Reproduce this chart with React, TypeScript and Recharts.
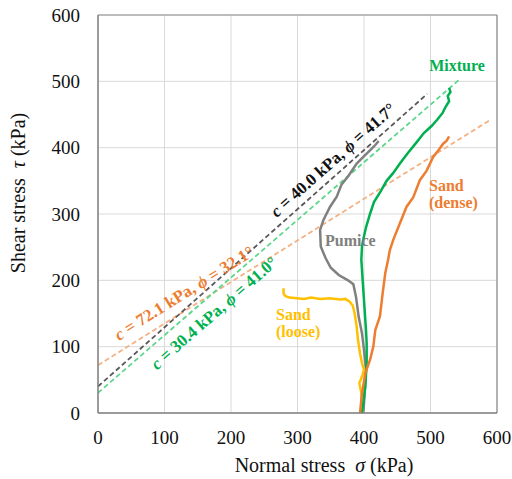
import React from 'react';
import { LineChart, Line, CartesianGrid, XAxis, YAxis, ReferenceLine } from 'recharts';

// axis ticks (kPa)
const xTicks = [0, 100, 200, 300, 400, 500, 600];
const yTicks = [0, 100, 200, 300, 400, 500, 600];

// stress paths, [sigma, tau] in kPa
const pumice: [number, number][] = [
  [399, 0], [401, 30], [403, 65], [400, 95], [397, 120], [392, 145], [388, 175], [384, 194],
  [376, 200], [362, 208], [350, 219], [342, 234], [335, 251], [334, 276], [339, 291],
  [349, 311], [359, 326], [366, 344], [377, 358], [389, 376], [399, 386], [409, 396],
  [417, 404], [422, 410],
];
const sandLoose: [number, number][] = [
  [398, 0], [396, 30], [393, 45], [397, 55], [400, 65], [397, 75], [394, 90], [391, 110],
  [389, 130], [386, 150], [383, 162], [378, 168], [372, 172], [365, 171], [357, 172],
  [349, 173], [334, 172], [320, 174], [310, 172], [299, 173], [288, 174], [282, 176],
  [279, 180], [279, 188],
];
const mixture: [number, number][] = [
  [397, 0], [402, 40], [404, 75], [404, 105], [403, 125], [401, 155], [398, 200], [396, 231],
  [397, 251], [399, 262], [403, 280], [409, 300], [415, 318], [425, 334], [434, 350],
  [444, 362], [454, 376], [466, 392], [479, 408], [490, 422], [502, 433], [510, 442],
  [518, 452], [523, 462], [528, 470], [526, 478], [530, 484], [528, 490],
];
const sandDense: [number, number][] = [
  [394, 0], [397, 30], [402, 60], [409, 80], [414, 100], [417, 125], [424, 146], [428, 180],
  [432, 211], [436, 230], [439, 246], [444, 261], [454, 286], [464, 311], [474, 325],
  [484, 351], [494, 365], [504, 386], [512, 396], [519, 406], [524, 410], [528, 417],
];

// Mohr-Coulomb envelopes (end points)
const envMixture: [number, number][] = [[0, 30.4], [545, 504]];
const envPumice: [number, number][] = [[0, 40.0], [495, 481]];
const envSand: [number, number][] = [[0, 72.1], [590, 442]];

const pts = (a: [number, number][]) => a.map(([x, y]) => ({ x, y }));

const serif = "'Liberation Serif', 'Times New Roman', Times, 'DejaVu Serif', serif";

export default function App() {
  return (
    <div style={{ position: 'absolute', left: 0, top: 0, width: 512, height: 479, background: '#fff', fontFamily: serif }}>
      <LineChart width={512} height={479} margin={{ top: 15, right: 15, bottom: 36, left: 38 }} style={{ fontFamily: serif }}>
        <CartesianGrid stroke="#d9d9d9" strokeWidth={1} />
        <XAxis
          type="number"
          dataKey="x"
          domain={[0, 600]}
          ticks={xTicks}
          height={30}
          tickLine={false}
          tickMargin={12}
          stroke="#808080"
          strokeWidth={1.5}
          tick={{ fill: '#111', fontSize: 19, style: { fontFamily: serif } }}
        />
        <YAxis
          type="number"
          domain={[0, 600]}
          ticks={yTicks}
          width={60}
          tickLine={false}
          tickMargin={12}
          stroke="#808080"
          strokeWidth={1.5}
          tick={{ fill: '#111', fontSize: 19, style: { fontFamily: serif } }}
        />
        <ReferenceLine y={600} stroke="#8c8c8c" strokeWidth={1.2} />
        <ReferenceLine x={600} stroke="#8c8c8c" strokeWidth={1.2} />

        <Line data={pts(envSand)} dataKey="y" type="linear" stroke="#f4b183" strokeWidth={1.8} strokeDasharray="5 3" dot={false} isAnimationActive={false} />
        <Line data={pts(envPumice)} dataKey="y" type="linear" stroke="#595959" strokeWidth={1.8} strokeDasharray="5 3" dot={false} isAnimationActive={false} />
        <Line data={pts(envMixture)} dataKey="y" type="linear" stroke="#5cd68a" strokeWidth={1.8} strokeDasharray="5 3" dot={false} isAnimationActive={false} />

        <Line data={pts(pumice)} dataKey="y" type="linear" stroke="#808080" strokeWidth={2.5} dot={false} isAnimationActive={false} />
        <Line data={pts(sandLoose)} dataKey="y" type="linear" stroke="#ffc000" strokeWidth={2.5} dot={false} isAnimationActive={false} />
        <Line data={pts(mixture)} dataKey="y" type="linear" stroke="#00b050" strokeWidth={2.5} dot={false} isAnimationActive={false} />
        <Line data={pts(sandDense)} dataKey="y" type="linear" stroke="#ed7d31" strokeWidth={2.5} dot={false} isAnimationActive={false} />
      </LineChart>

      {/* titles and annotations */}
      <svg width={512} height={479} style={{ position: 'absolute', left: 0, top: 0, pointerEvents: 'none', fontFamily: serif }}>
        <text x={324} y={472} textAnchor="middle" fontSize={20} fill="#111" xmlSpace="preserve">
          Normal stress  <tspan fontStyle="italic">σ</tspan> (kPa)
        </text>
        <text x={25} y={193} textAnchor="middle" fontSize={20} fill="#111" transform="rotate(-90 25 193)" xmlSpace="preserve">
          Shear stress  <tspan fontStyle="italic">τ</tspan> (kPa)
        </text>

        <g fontWeight="bold" fontSize={16}>
          <text x={457} y={71} textAnchor="middle" fill="#00b050">Mixture</text>
          <text x={429} y={191} fill="#ed7d31">Sand</text>
          <text x={429} y={208} fill="#ed7d31">(dense)</text>
          <text x={325} y={246} fill="#808080">Pumice</text>
          <text x={276} y={320} fill="#ffc000">Sand</text>
          <text x={276} y={337} fill="#ffc000">(loose)</text>
        </g>

        <g fontWeight="bold" fontSize={17}>
          <text x={333} y={160} textAnchor="middle" dominantBaseline="central" fill="#111" transform="rotate(-41.7 333 160)">
            <tspan fontStyle="italic">c</tspan> = 40.0 kPa, <tspan fontStyle="italic">ϕ</tspan> = 41.7°
          </text>
          <text x={184} y={293} textAnchor="middle" dominantBaseline="central" fill="#ed7d31" transform="rotate(-32.1 184 293)">
            <tspan fontStyle="italic">c</tspan> = 72.1 kPa, <tspan fontStyle="italic">ϕ</tspan> = 32.1°
          </text>
          <text x={214} y={313} textAnchor="middle" dominantBaseline="central" fill="#00b050" transform="rotate(-41 214 313)">
            <tspan fontStyle="italic">c</tspan> = 30.4 kPa, <tspan fontStyle="italic">ϕ</tspan> = 41.0°
          </text>
        </g>
      </svg>
    </div>
  );
}
